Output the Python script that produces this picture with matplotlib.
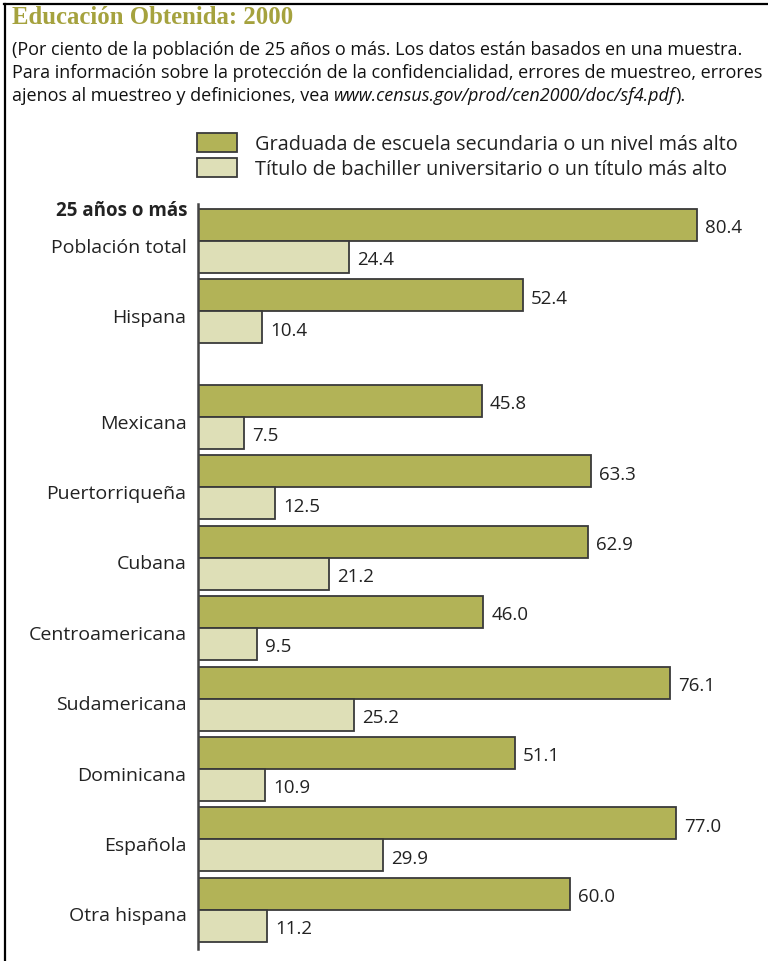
import matplotlib
matplotlib.use("Agg")
import matplotlib.pyplot as plt
from matplotlib.patches import Rectangle
from matplotlib.lines import Line2D

# ---- data ----
categories = ["Población total", "Hispana", "Mexicana", "Puertorriqueña", "Cubana",
              "Centroamericana", "Sudamericana", "Dominicana", "Española", "Otra hispana"]
high_school = [80.4, 52.4, 45.8, 63.3, 62.9, 46.0, 76.1, 51.1, 77.0, 60.0]
bachelor = [24.4, 10.4, 7.5, 12.5, 21.2, 9.5, 25.2, 10.9, 29.9, 11.2]
series_labels = ["Graduada de escuela secundaria o un nivel más alto",
                 "Título de bachiller universitario o un título más alto"]
title = "Educación Obtenida: 2000"
subtitle_lines = [
    "(Por ciento de la población de 25 años o más. Los datos están basados en una muestra.",
    "Para información sobre la protección de la confidencialidad, errores de muestreo, errores",
]
subtitle_last_plain = "ajenos al muestreo y definiciones, vea "
subtitle_last_italic = "www.census.gov/prod/cen2000/doc/sf4.pdf"
subtitle_last_end = ")."
group_header = "25 años o más"

# ---- style ----
DARK = "#B2B357"
LIGHT = "#DEDFB7"
EDGE = "#3a3a3a"
TITLE_C = "#A5A23E"
TEXT_C = "#222222"
W, H = 768, 962
FONT = ["Open Sans", "DejaVu Sans"]

fig = plt.figure(figsize=(W / 100, H / 100), dpi=100)

def fx(px):
    return px / W

def fy(py):
    return 1 - py / H

# axes placement (pixels)
ax_left, ax_top, ax_bottom = 197.5, 205, 950
ax = fig.add_axes([fx(ax_left), fy(ax_bottom), fx(W - ax_left), (ax_bottom - ax_top) / H])

positions = [0, 1] + [2.5 + i for i in range(len(categories) - 2)]
bh = 0.455
px_per_unit = (697 - ax_left) / 80.4
ax.set_xlim(0, (W - ax_left) / px_per_unit)
ax.set_ylim(10.056, -0.526)

ax.barh([p - bh / 2 for p in positions], high_school, height=bh, color=DARK,
        edgecolor=EDGE, linewidth=1.3)
ax.barh([p + bh / 2 for p in positions], bachelor, height=bh, color=LIGHT,
        edgecolor=EDGE, linewidth=1.3)

off = 8 / px_per_unit
for p, v in zip(positions, high_school):
    ax.text(v + off, p - bh / 2 + 0.03, f"{v:.1f}", va="center", ha="left",
            fontsize=13.5, color=TEXT_C, family=FONT)
for p, v in zip(positions, bachelor):
    ax.text(v + off, p + bh / 2 + 0.03, f"{v:.1f}", va="center", ha="left",
            fontsize=13.5, color=TEXT_C, family=FONT)

for s in ["top", "right", "bottom"]:
    ax.spines[s].set_visible(False)
ax.spines["left"].set_color("#444444")
ax.spines["left"].set_linewidth(1.8)
ax.set_xticks([])
ax.set_yticks([p + 0.05 for p in positions])
ax.set_yticklabels(categories, family=FONT, fontsize=14, color=TEXT_C)
ax.tick_params(axis="y", length=0, pad=8)
ax.patch.set_alpha(0)

# group header
fig.text(fx(188), fy(211), group_header, ha="right", va="center", fontsize=13.5,
         fontweight="bold", color=TEXT_C, family=FONT)

# title
fig.text(fx(12), fy(18), title, ha="left", va="center", fontsize=17.8,
         fontweight="bold", color=TITLE_C, family=["Liberation Serif", "DejaVu Serif"])

# subtitle
SUBF = FONT
SUBS = 13
for i, line in enumerate(subtitle_lines):
    fig.text(fx(12), fy(50 + 23 * i), line, ha="left", va="center", fontsize=SUBS,
             color="#111111", family=SUBF)
t1 = fig.text(fx(12), fy(96), subtitle_last_plain, ha="left", va="center", fontsize=SUBS,
              color="#111111", family=SUBF)
fig.canvas.draw()
r = fig.canvas.get_renderer()
bb = t1.get_window_extent(renderer=r)
t2 = fig.text(bb.x1 / W, fy(96), subtitle_last_italic, ha="left", va="center", fontsize=SUBS,
              color="#111111", family=SUBF, style="italic")
bb2 = t2.get_window_extent(renderer=r)
fig.text(bb2.x1 / W, fy(96), subtitle_last_end, ha="left", va="center", fontsize=SUBS,
         color="#111111", family=SUBF)

# legend
for i, (lab, col) in enumerate(zip(series_labels, [DARK, LIGHT])):
    y0 = 134 + 25 * i
    fig.patches.append(Rectangle((fx(197), fy(y0 + 19)), fx(40), 19 / H,
                                 transform=fig.transFigure, facecolor=col,
                                 edgecolor=EDGE, linewidth=1.3))
    fig.text(fx(255), fy(y0 + 11), lab, ha="left", va="center", fontsize=14.3,
             color=TEXT_C, family=FONT)

# frame lines (left and top)
fig.add_artist(Line2D([fx(5), fx(5)], [0, fy(5)], transform=fig.transFigure,
                      color="black", linewidth=1.6))
fig.add_artist(Line2D([fx(4), 1], [fy(5), fy(5)], transform=fig.transFigure,
                      color="black", linewidth=1.6))

fig.savefig("out.png", dpi=100, facecolor="white")
